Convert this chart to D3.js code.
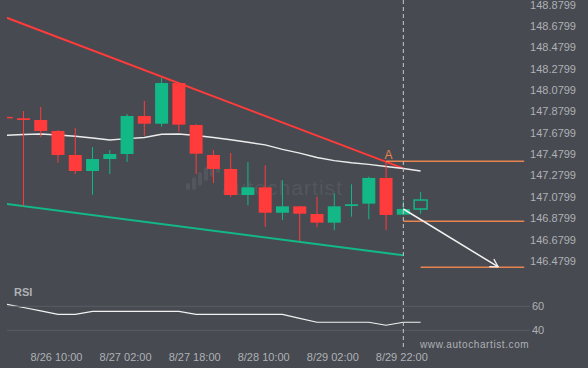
<!DOCTYPE html>
<html>
<head>
<meta charset="utf-8">
<script src="https://cdn.jsdelivr.net/npm/d3@7"></script>
<style>
  body { margin: 0; background: #474a50; }
  svg { display: block; font-family: "Liberation Sans", Arial, sans-serif; }
</style>
</head>
<body>
<div id="chart"></div>
<script>
// candle times (4h bars)
const times = ["8/25 22:00", "8/26 02:00", "8/26 06:00", "8/26 10:00", "8/26 14:00", "8/26 18:00", "8/26 22:00",
  "8/27 02:00", "8/27 06:00", "8/27 10:00", "8/27 14:00", "8/27 18:00", "8/27 22:00", "8/28 02:00",
  "8/28 06:00", "8/28 10:00", "8/28 14:00", "8/28 18:00", "8/28 22:00", "8/29 02:00", "8/29 06:00",
  "8/29 10:00", "8/29 14:00", "8/29 22:00", "8/30 02:00"];
const tickTimes = ["8/26 10:00", "8/27 02:00", "8/27 18:00", "8/28 10:00", "8/29 02:00", "8/29 22:00"];

const open = [147.830, 147.817, 147.801, 147.698, 147.473, 147.323, 147.435, 147.482, 147.838, 147.766, 148.147, 147.754, 147.473,
  147.342, 147.098, 147.170, 146.932, 146.992, 146.920, 146.839, 146.995, 147.017, 147.258, 146.914, 146.967];
const close = [147.818, 147.801, 147.698, 147.473, 147.323, 147.435, 147.482, 147.838, 147.766, 148.147, 147.757, 147.485, 147.342,
  147.098, 147.170, 146.932, 146.992, 146.923, 146.839, 146.992, 147.011, 147.258, 146.911, 146.967, 147.051];
const high = [147.840, 147.885, 147.923, 147.707, 147.726, 147.548, 147.520, 147.857, 147.979, 148.194, 148.150, 147.763, 147.520,
  147.492, 147.407, 147.376, 147.236, 146.995, 147.082, 147.114, 147.198, 147.270, 147.414, 147.045, 147.126];
const low = [147.810, 146.995, 147.642, 147.401, 147.295, 147.101, 147.295, 147.407, 147.654, 147.738, 147.691, 147.295, 147.211,
  147.082, 147.002, 146.801, 146.864, 146.667, 146.796, 146.768, 146.895, 146.871, 146.770, 146.911, 146.923];

// moving average + rsi
const ma = [147.658, 147.665, 147.670, 147.660, 147.648, 147.632, 147.613, 147.626, 147.637, 147.667, 147.670, 147.656, 147.637,
  147.616, 147.592, 147.568, 147.525, 147.490, 147.450, 147.420, 147.400, 147.385, 147.365, 147.347, 147.323];
const rsi = [61.7, 59.0, 56.2, 53.3, 53.3, 55.8, 55.8, 55.8, 55.8, 55.8, 55.8, 53.3, 53.3, 53.3, 53.3, 53.3, 53.3,
  50.0, 46.7, 46.7, 46.7, 46.7, 44.2, 46.7, 46.7];

const priceTicks = [146.4799, 146.6799, 146.8799, 147.0799, 147.2799, 147.4799, 147.6799, 147.8799, 148.0799, 148.2799, 148.4799, 148.6799, 148.8799];
const rsiTicks = [40, 60];

// pattern (channel) lines: [index, price]
const resistance = [[0, 148.760], [23, 147.347]];
const support = [[0, 147.015], [23, 146.533]];
const levels = [[22, 147.414], [23, 146.852], [24, 146.421]];
const forecast = [[23, 146.967], [28.5, 146.424]];
const levelEnd = 30;

const width = 588;
const height = 368;

const svg = d3.select("#chart").append("svg")
    .attr("width", width)
    .attr("height", height);

svg.append("rect").attr("width", width).attr("height", height).attr("fill", "#474a50");

// scales
const x = d3.scaleLinear().domain([0, 24]).range([6.2, 420.6]);
const y = d3.scaleLinear().domain([146.4799, 148.8799]).range([261, 4.8]);
const yRsi = d3.scaleLinear().domain([40, 60]).range([330.3, 306.3]);

const red = "#ff3b3b";
const green = "#12b886";
const orange = "#e8844f";
const textCol = "#aeb1b6";

svg.append("clipPath").attr("id", "plot")
  .append("rect").attr("x", 7).attr("y", 0).attr("width", width - 7).attr("height", height);

const plot = svg.append("g").attr("clip-path", "url(#plot)");

// faint watermark
const wm = plot.append("g").attr("fill", "#53565c");
[[186, 183, 190], [192, 177, 190], [198, 172, 186], [204, 167, 181], [210, 164, 177], [216, 161, 173]].forEach(b => {
  wm.append("rect").attr("x", b[0]).attr("y", b[1]).attr("width", 4).attr("height", b[2] - b[1]).attr("rx", 2);
});
wm.append("text").attr("x", 222).attr("y", 195).attr("font-size", 21)
  .attr("textLength", 120).text("autochartist");

// price labels
svg.append("g").selectAll("text")
  .data(priceTicks)
  .enter().append("text")
  .attr("x", 576)
  .attr("y", d => y(d))
  .attr("dy", "0.35em")
  .attr("text-anchor", "end")
  .attr("font-size", 11)
  .attr("fill", textCol)
  .text(d => d.toFixed(4));

// channel lines
const line = d3.line().x(d => x(d[0])).y(d => y(d[1]));
plot.append("path").attr("d", line(resistance)).attr("stroke", red).attr("stroke-width", 2).attr("fill", "none");
plot.append("path").attr("d", line(support)).attr("stroke", green).attr("stroke-width", 2).attr("fill", "none");

// moving average
plot.append("path")
  .datum(ma)
  .attr("d", d3.line().x((d, i) => x(i)).y(d => y(d)))
  .attr("stroke", "#ececec").attr("stroke-width", 1.4).attr("fill", "none");

// candles
const bw = 13;
const candles = plot.append("g").selectAll("g")
  .data(times.map((t, i) => ({ i, o: open[i], c: close[i], h: high[i], l: low[i] })))
  .enter().append("g");

candles.append("line")
  .attr("x1", d => x(d.i)).attr("x2", d => x(d.i))
  .attr("y1", d => y(d.h)).attr("y2", d => y(d.l))
  .attr("stroke", d => d.c >= d.o ? green : red)
  .attr("stroke-width", 1);

candles.append("rect")
  .attr("x", d => x(d.i) - bw / 2)
  .attr("y", d => y(Math.max(d.o, d.c)))
  .attr("width", bw)
  .attr("height", d => Math.max(1.5, Math.abs(y(d.o) - y(d.c))))
  .attr("fill", d => d.i === times.length - 1 ? "#474a50" : (d.c >= d.o ? green : red))
  .attr("stroke", d => d.i === times.length - 1 ? green : "none")
  .attr("stroke-width", 1.5);

// level lines
svg.append("g").selectAll("line")
  .data(levels)
  .enter().append("line")
  .attr("x1", d => x(d[0])).attr("x2", x(levelEnd))
  .attr("y1", d => y(d[1])).attr("y2", d => y(d[1]))
  .attr("stroke", orange).attr("stroke-width", 1.5);

svg.append("text")
  .attr("x", x(levels[0][0]) + 2.5).attr("y", y(levels[0][1]) - 2)
  .attr("text-anchor", "middle").attr("font-size", 12).attr("fill", orange)
  .text("A");

// forecast arrow
const fx0 = x(forecast[0][0]), fy0 = y(forecast[0][1]);
const fx1 = x(forecast[1][0]), fy1 = y(forecast[1][1]);
const ang = Math.atan2(fy1 - fy0, fx1 - fx0);
svg.append("line")
  .attr("x1", fx0).attr("y1", fy0).attr("x2", fx1).attr("y2", fy1)
  .attr("stroke", "#f2f2f2").attr("stroke-width", 1.5);
[0.5, -0.5].forEach(a => {
  svg.append("line")
    .attr("x1", fx1).attr("y1", fy1)
    .attr("x2", fx1 - 9 * Math.cos(ang + a)).attr("y2", fy1 - 9 * Math.sin(ang + a))
    .attr("stroke", "#f2f2f2").attr("stroke-width", 1.3);
});

// rsi panel
svg.append("text").attr("x", 14).attr("y", 295.5)
  .attr("font-size", 11).attr("font-weight", "bold").attr("fill", textCol).text("RSI");

svg.append("g").selectAll("line")
  .data(rsiTicks)
  .enter().append("line")
  .attr("x1", 7).attr("x2", 530)
  .attr("y1", d => yRsi(d)).attr("y2", d => yRsi(d))
  .attr("stroke", "#595c62").attr("stroke-width", 1);

svg.append("g").selectAll("text")
  .data(rsiTicks)
  .enter().append("text")
  .attr("x", 532).attr("y", d => yRsi(d)).attr("dy", "0.35em")
  .attr("font-size", 11).attr("fill", textCol)
  .text(d => d);

plot.append("path")
  .datum(rsi)
  .attr("d", d3.line().x((d, i) => x(i)).y(d => yRsi(d)))
  .attr("stroke", "#f2f2f2").attr("stroke-width", 1.2).attr("fill", "none");

// current time marker
svg.append("line")
  .attr("x1", x(23)).attr("x2", x(23))
  .attr("y1", 0).attr("y2", 350)
  .attr("stroke", "#c8c8c8").attr("stroke-width", 1).attr("stroke-dasharray", "4,3");

// time labels
svg.append("g").selectAll("text")
  .data(tickTimes)
  .enter().append("text")
  .attr("x", d => x(times.indexOf(d)) - 1.5)
  .attr("y", 357)
  .attr("dy", "0.35em")
  .attr("text-anchor", "middle")
  .attr("font-size", 11)
  .attr("fill", textCol)
  .text(d => d);

svg.append("text")
  .attr("x", 420).attr("y", 344.5).attr("dy", "0.35em")
  .attr("font-size", 10).attr("letter-spacing", 0.6).attr("fill", textCol)
  .text("www.autochartist.com");
</script>
</body>
</html>
